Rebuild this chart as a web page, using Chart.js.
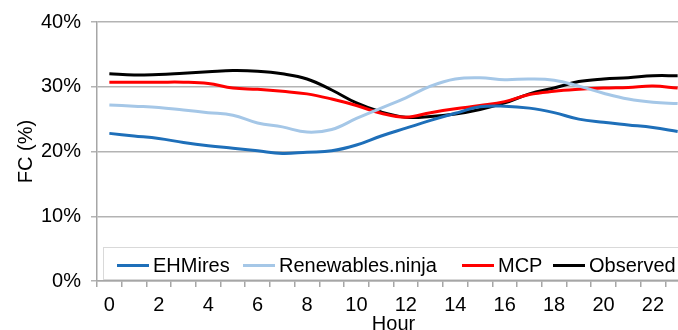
<!DOCTYPE html>
<html>
<head>
<meta charset="utf-8">
<script src="https://cdn.jsdelivr.net/npm/chart.js@4.4.0/dist/chart.umd.min.js"></script>
<style>
    html, body { margin: 0; padding: 0; background: #fff; overflow: hidden; }
    #wrap { width: 678px; height: 330px; overflow: hidden; }
</style>
</head>
<body>
<div id="wrap"><canvas id="fcChart" width="695" height="340"></canvas></div>
<script>
const hours = ['0', '1', '2', '3', '4', '5', '6', '7', '8', '9', '10', '11',
    '12', '13', '14', '15', '16', '17', '18', '19', '20', '21', '22', '23'];

// hourly capacity factor, %
const ehmires = [22.8, 22.4, 22.0, 21.4, 20.9, 20.5, 20.1, 19.7, 19.9, 20.1, 21.0, 22.4,
    23.6, 24.8, 25.9, 26.9, 27.0, 26.7, 26.0, 25.0, 24.5, 24.1, 23.7, 23.1];
const renewablesNinja = [27.2, 27.0, 26.8, 26.4, 26.0, 25.6, 24.4, 23.8, 23.0, 23.4, 25.1, 26.7,
    28.3, 30.1, 31.2, 31.4, 31.1, 31.2, 31.0, 30.1, 29.0, 28.1, 27.6, 27.4];
const mcp = [30.7, 30.7, 30.7, 30.7, 30.5, 29.8, 29.6, 29.3, 28.9, 28.1, 27.1, 25.9,
    25.3, 26.0, 26.6, 27.1, 27.7, 28.8, 29.3, 29.6, 29.8, 29.9, 30.1, 29.8];
const observed = [32.0, 31.8, 31.9, 32.1, 32.3, 32.5, 32.4, 32.0, 31.2, 29.5, 27.5, 26.1,
    25.3, 25.4, 25.8, 26.5, 27.5, 28.9, 29.8, 30.8, 31.2, 31.4, 31.7, 31.7];

const yTicks = [0, 10, 20, 30, 40];

const font = { family: '"Liberation Sans", Arial, sans-serif', size: 20 };
Chart.defaults.font = font;
Chart.defaults.color = '#000';

function series(label, data, color) {
    return {
        label: label,
        data: data,
        borderColor: color,
        backgroundColor: color,
        borderWidth: 3,
        pointRadius: 0,
        tension: 0.4,
        fill: false,
    };
}

// legend sits inside the plot, along the bottom, in a thin grey box
const legendOffsets = [20, 146, 365, 456];

const insideLegend = {
    id: 'insideLegend',
    afterDatasetsDraw(chart) {
        const { ctx, chartArea } = chart;
        const top = chartArea.bottom - 34;
        const width = chartArea.right - chartArea.left - 12;
        ctx.save();
        ctx.fillStyle = '#fff';
        ctx.fillRect(chartArea.left + 6, top, width, 33);
        ctx.strokeStyle = '#d9d9d9';
        ctx.lineWidth = 1;
        ctx.strokeRect(chartArea.left + 6.5, top + 0.5, width, 32);

        ctx.font = '20px "Liberation Sans", Arial, sans-serif';
        ctx.textBaseline = 'middle';
        const y = top + 18.5;
        chart.data.datasets.forEach((ds, i) => {
            const x = chartArea.left + legendOffsets[i];
            ctx.strokeStyle = ds.borderColor;
            ctx.lineWidth = 3;
            ctx.beginPath();
            ctx.moveTo(x, y);
            ctx.lineTo(x + 32, y);
            ctx.stroke();
            ctx.fillStyle = '#000';
            ctx.fillText(ds.label, x + 36, y + 1);
        });
        ctx.restore();
    },
};

const chartConfig = {
    type: 'line',
    data: {
        labels: hours,
        datasets: [
            series('EHMires', ehmires, '#1e6fb9'),
            series('Renewables.ninja', renewablesNinja, '#a5c7e7'),
            series('MCP', mcp, '#ff0000'),
            series('Observed', observed, '#000000'),
        ],
    },
    options: {
        responsive: false,
        animation: false,
        devicePixelRatio: 1,
        layout: { padding: { top: 12, right: 5, bottom: 0, left: 0 } },
        plugins: {
            legend: { display: false },
            tooltip: { enabled: false },
        },
        scales: {
            x: {
                offset: true,
                grid: { offset: true, drawOnChartArea: false, tickLength: 6, color: '#a6a6a6', lineWidth: 1.5 },
                border: { color: '#a6a6a6', width: 1.5 },
                ticks: {
                    autoSkip: false,
                    maxRotation: 0,
                    padding: 6,
                    callback: function (value, index) {
                        return index % 2 ? '' : this.getLabelForValue(value);
                    },
                },
                title: { display: true, text: 'Hour', padding: { top: 0, bottom: 4 } },
                afterFit: scale => { scale.height = 59; },
            },
            y: {
                min: yTicks[0],
                max: yTicks[yTicks.length - 1],
                afterBuildTicks: scale => { scale.ticks = yTicks.map(v => ({ value: v })); },
                ticks: { callback: v => v + '%', padding: 10 },
                grid: { color: '#b3b3b3', lineWidth: 1.5, tickLength: 6 },
                border: { color: '#a6a6a6', width: 1.5 },
                title: { display: true, text: 'FC (%)', padding: { top: 14, bottom: 0 } },
                afterFit: scale => { scale.width = 97; },
            },
        },
    },
    plugins: [insideLegend],
};

new Chart(document.getElementById('fcChart'), chartConfig);
</script>
</body>
</html>
